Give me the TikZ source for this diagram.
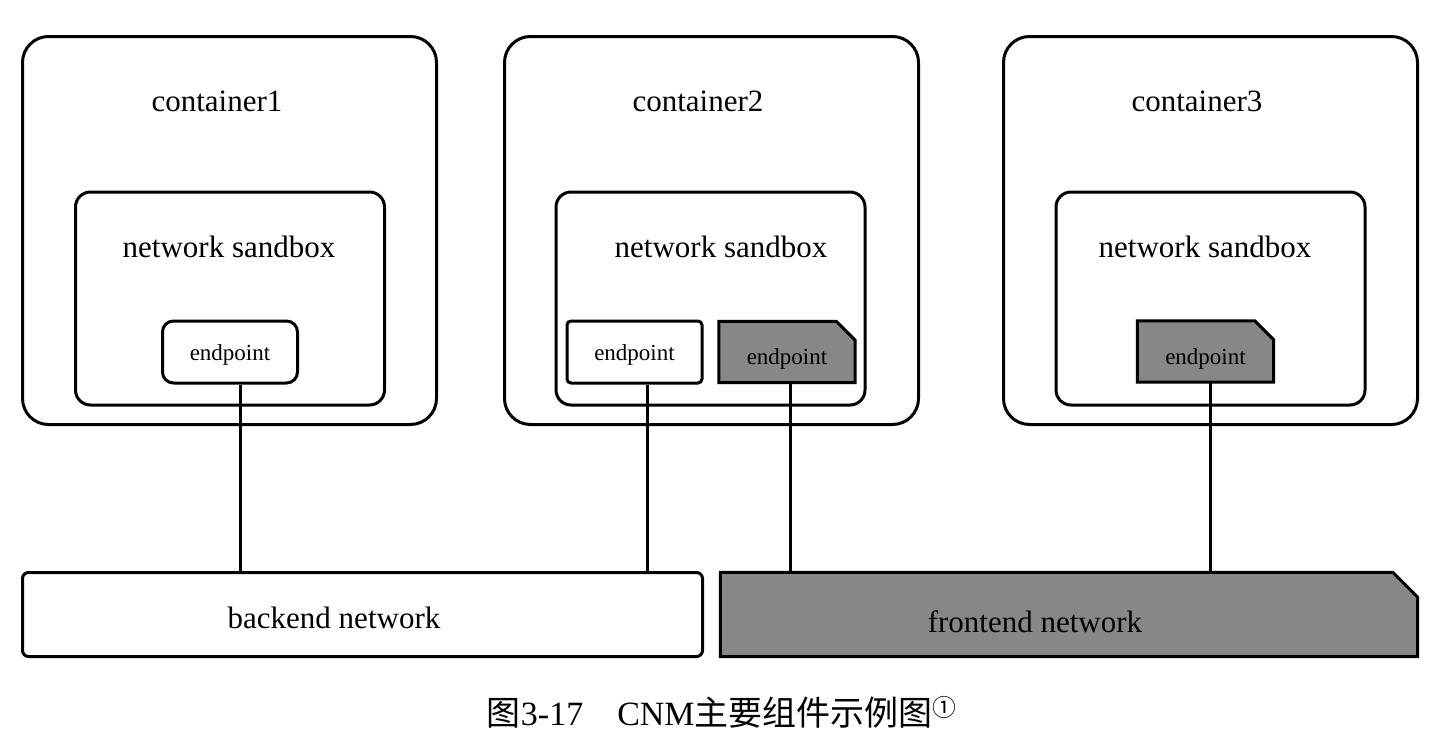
\documentclass[tikz,border=0pt]{standalone}
\usepackage{fontspec}
\setmainfont{Liberation Serif}
\newfontfamily\cjk{Noto Sans CJK SC}
\begin{document}
\begin{tikzpicture}[x=1pt,y=-1pt,
  box/.style={draw=black, line width=3pt, fill=white, inner sep=0pt},
  container/.style={box, rounded corners=26pt, minimum width=414pt, minimum height=388pt},
  sandbox/.style={box, rounded corners=15pt, minimum width=309pt, minimum height=213pt},
  epwhite/.style={box, minimum width=135pt, minimum height=62pt},
  epshade/.style={inner sep=0pt, minimum width=136pt, minimum height=61pt},
  shadefill/.style={draw=black, line width=3pt, fill=black!47, line join=miter},
  lbl/.style={font=\fontsize{31}{36}\selectfont, inner sep=0pt},
  eplbl/.style={font=\fontsize{23}{27}\selectfont, inner sep=0pt},
  link/.style={draw=black, line width=3pt}
]
\useasboundingbox (0,0) rectangle (1454,736);

% containers
\node[container] (c1) at (229.5,230.5) {};
\node[container] (c2) at (711.5,230.5) {};
\node[container] (c3) at (1210.5,230.5) {};
\node[lbl] (c1t) at (217,101) {container1};
\node[lbl] (c2t) at (698,101) {container2};
\node[lbl] (c3t) at (1197,101) {container3};

% sandboxes
\node[sandbox] (s1) at (230,298.5) {};
\node[sandbox] (s2) at (710.5,298.5) {};
\node[sandbox] (s3) at (1210.5,298.5) {};
\node[lbl] (s1t) at (229,247) {network sandbox};
\node[lbl] (s2t) at (721,247) {network sandbox};
\node[lbl] (s3t) at (1205,247) {network sandbox};

% endpoints
\node[epwhite, rounded corners=11pt] (e1) at (230,352) {};
\node[eplbl] at ([yshift=-3pt]e1.center) {endpoint};
\node[epwhite, rounded corners=4pt] (e2) at (634.5,352) {};
\node[eplbl] at ([yshift=-3pt]e2.center) {endpoint};

\node[epshade] (e3) at (787,352) {};
\path[shadefill] (e3.south west) -- (e3.north west) -- ([xshift=-19pt]e3.north east)
  -- ([yshift=-19pt]e3.north east) -- (e3.south east) -- cycle;
\node[eplbl] at ([yshift=-7pt]e3.center) {endpoint};

\node[epshade] (e4) at (1205.5,351.5) {};
\path[shadefill] (e4.south west) -- (e4.north west) -- ([xshift=-19pt]e4.north east)
  -- ([yshift=-19pt]e4.north east) -- (e4.south east) -- cycle;
\node[eplbl] at ([yshift=-7pt]e4.center) {endpoint};

% networks
\node[box, rounded corners=6pt, minimum width=680pt, minimum height=84pt] (bn) at (362.5,614.5) {};
\node[lbl] (bnt) at (334,618) {backend network};
\node[inner sep=0pt, minimum width=697pt, minimum height=84pt] (fn) at (1069,614.5) {};
\path[shadefill] (fn.south west) -- (fn.north west) -- ([xshift=-25pt]fn.north east)
  -- ([yshift=-25pt]fn.north east) -- (fn.south east) -- cycle;
\node[lbl] (fnt) at (1035,622) {frontend network};

% links
\draw[link] (e1.south -| 240,0) -- (bn.north -| 240,0);
\draw[link] (e2.south -| 647,0) -- (bn.north -| 647,0);
\draw[link] (e3.south -| 790,0) -- (fn.north -| 790,0);
\draw[link] (e4.south -| 1210,0) -- (fn.north -| 1210,0);

% caption
\node[inner sep=0pt, font=\fontsize{34}{40}\selectfont] (cap) at (722,712)
  {{\cjk 图}3-17\hspace{1em}CNM{\cjk 主要组件示例图}\textsuperscript{\cjk ①}};
\end{tikzpicture}
\end{document}
